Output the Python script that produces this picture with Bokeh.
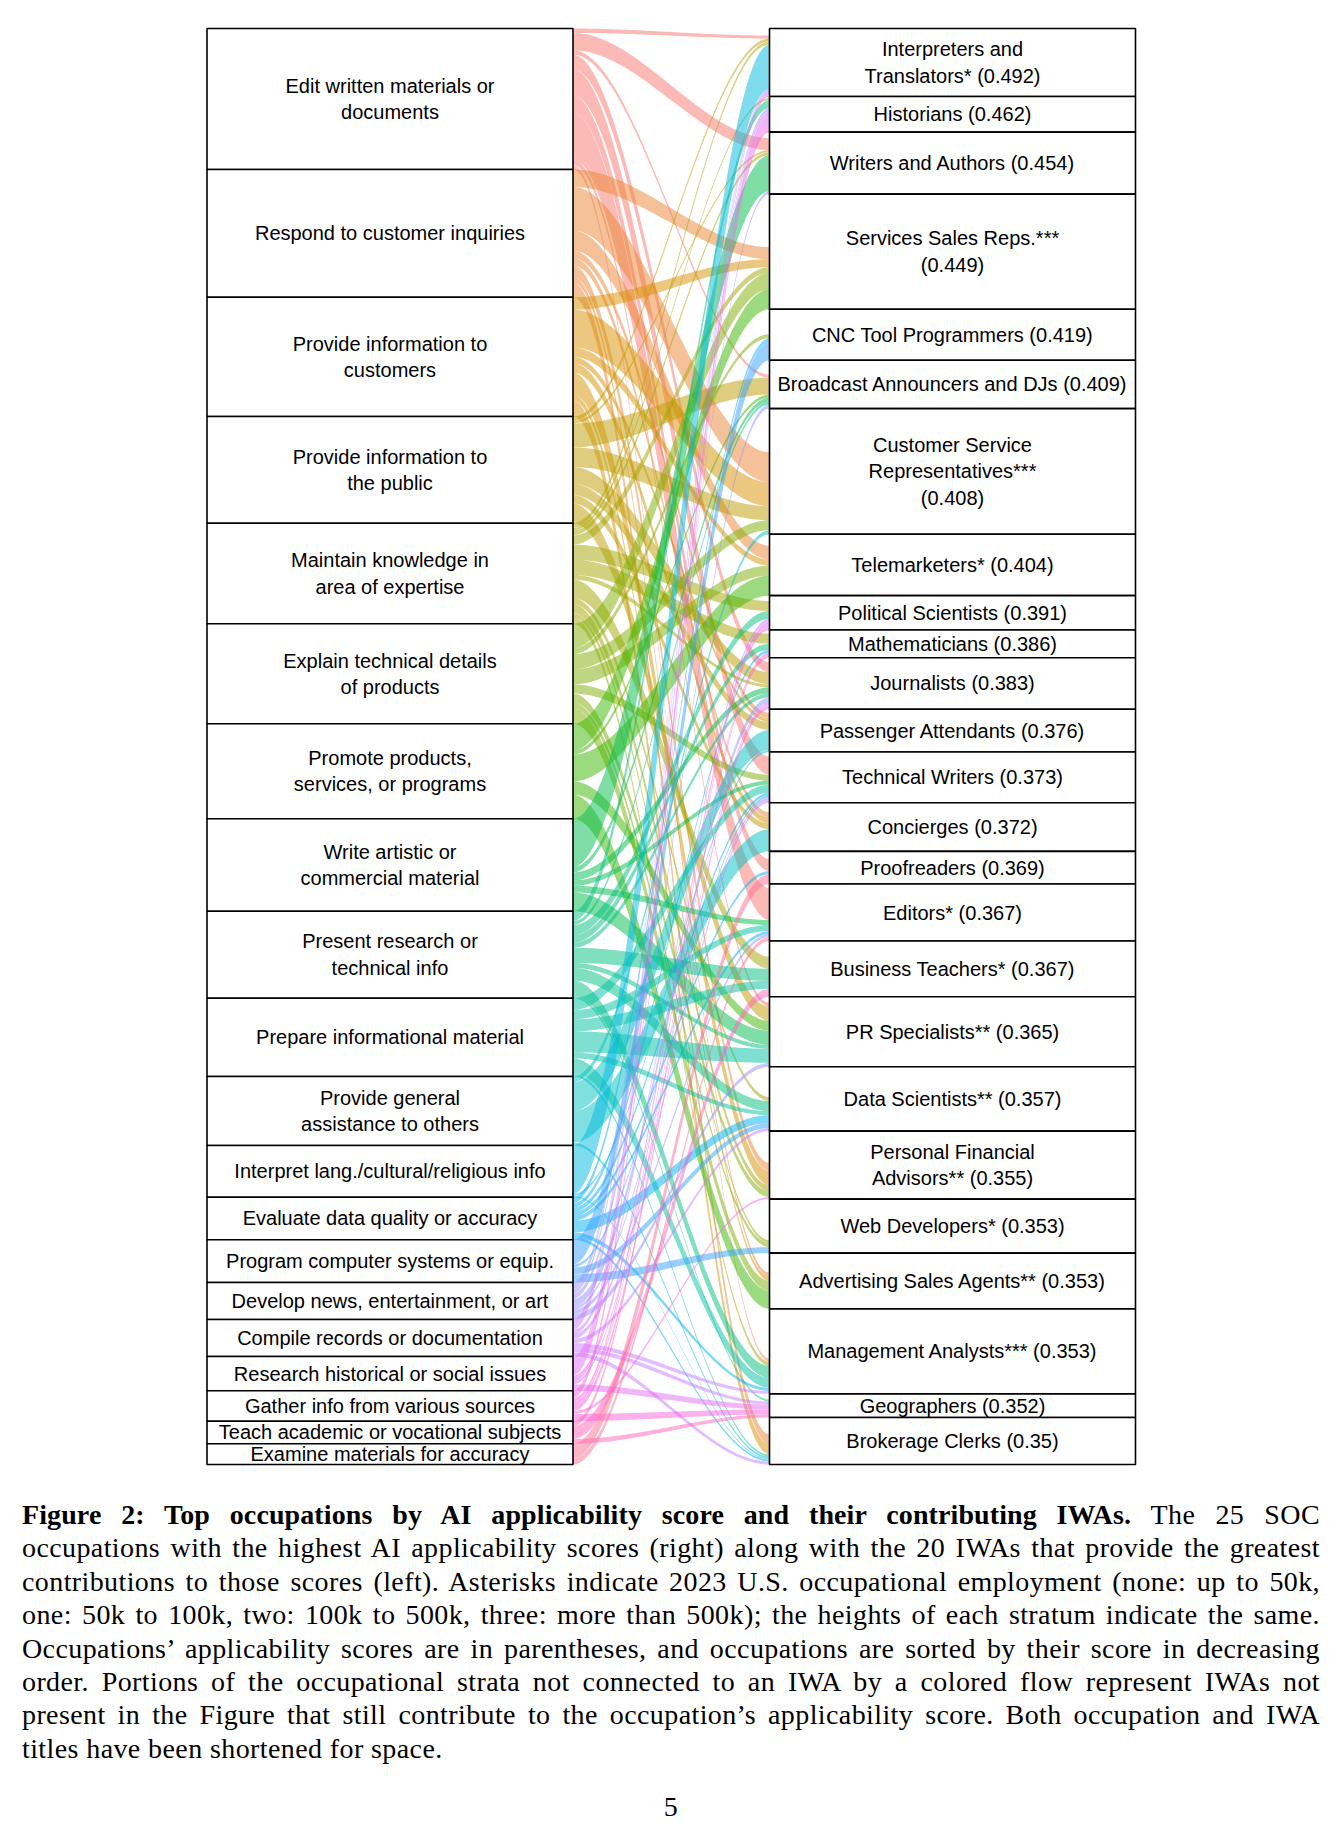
import numpy as np
from bokeh.plotting import figure
from bokeh.models import ColumnDataSource, Range1d, Div
from bokeh.layouts import column
from bokeh.embed import file_html
from bokeh.resources import INLINE
from bokeh.core.properties import value

# ---------------- data ----------------
iwa_labels = [
    "Edit written materials or\ndocuments",
    "Respond to customer inquiries",
    "Provide information to\ncustomers",
    "Provide information to\nthe public",
    "Maintain knowledge in\narea of expertise",
    "Explain technical details\nof products",
    "Promote products,\nservices, or programs",
    "Write artistic or\ncommercial material",
    "Present research or\ntechnical info",
    "Prepare informational material",
    "Provide general\nassistance to others",
    "Interpret lang./cultural/religious info",
    "Evaluate data quality or accuracy",
    "Program computer systems or equip.",
    "Develop news, entertainment, or art",
    "Compile records or documentation",
    "Research historical or social issues",
    "Gather info from various sources",
    "Teach academic or vocational subjects",
    "Examine materials for accuracy",
]
iwa_sizes = [141, 127.7, 119.3, 106.7, 100.6, 100, 95, 92.4, 87, 78.3,
             69, 51.7, 42.6, 42.7, 37, 37, 34.3, 30.4, 22.6, 20.7]

occ_names = [
    "Interpreters and\nTranslators*", "Historians", "Writers and Authors",
    "Services Sales Reps.***", "CNC Tool Programmers",
    "Broadcast Announcers and DJs", "Customer Service\nRepresentatives***",
    "Telemarketers*", "Political Scientists", "Mathematicians", "Journalists",
    "Passenger Attendants", "Technical Writers", "Concierges", "Proofreaders",
    "Editors*", "Business Teachers*", "PR Specialists**", "Data Scientists**",
    "Personal Financial\nAdvisors**", "Web Developers*",
    "Advertising Sales Agents**", "Management Analysts***", "Geographers",
    "Brokerage Clerks",
]
occ_scores = [0.492, 0.462, 0.454, 0.449, 0.419, 0.409, 0.408, 0.404, 0.391,
              0.386, 0.383, 0.376, 0.373, 0.372, 0.369, 0.367, 0.367, 0.365,
              0.357, 0.355, 0.353, 0.353, 0.353, 0.352, 0.35]
score_on_new_line = [3, 6]
occ_sizes = [68, 35.6, 62, 115, 51, 48.4, 125.6, 61.4, 34.3, 27.7, 51.6, 42.7,
             50.7, 48.6, 32.7, 57, 55.7, 70, 64.3, 68, 54, 55.7, 85, 23.6, 47]

iwa_colors = ["#F8766D", "#EA8331", "#D89000", "#C09B00", "#A3A500", "#7CAE00",
              "#39B600", "#00BB4E", "#00BF7D", "#00C1A3", "#00BFC4", "#00BAE0",
              "#00B0F6", "#35A2FF", "#9590FF", "#C77CFF", "#E76BF3", "#FA62DB",
              "#FF62BC", "#FF6C91"]

# flows: IWA index -> occupation index, contribution
flow_iwa = ([0]*9 + [1]*8 + [2]*8 + [3]*8 + [4]*12 + [5]*8 + [6]*5 + [7]*6 +
            [8]*10 + [9]*7 + [10]*4 + [11]*3 + [12]*8 + [13]*4 + [14]*8 +
            [15]*8 + [16]*5 + [17]*6 + [18]*3 + [19]*2)
flow_occ = [0, 2, 5, 10, 12, 14, 15, 17, 22,
            3, 6, 7, 11, 13, 19, 21, 24,
            3, 6, 7, 11, 13, 19, 21, 24,
            0, 2, 5, 6, 10, 11, 13, 17,
            0, 1, 2, 3, 8, 9, 10, 16, 18, 19, 20, 22,
            3, 4, 6, 7, 12, 19, 20, 21,
            3, 5, 7, 17, 21,
            2, 5, 10, 12, 15, 17,
            1, 5, 8, 9, 10, 16, 17, 18, 22, 23,
            12, 15, 16, 17, 18, 22, 24,
            6, 11, 13, 24,
            0, 11, 24,
            4, 9, 12, 14, 15, 18, 22, 24,
            4, 12, 18, 20,
            0, 1, 2, 5, 10, 12, 15, 17,
            0, 1, 8, 12, 18, 22, 23, 24,
            0, 1, 8, 10, 23,
            1, 8, 9, 10, 19, 23,
            9, 16, 23,
            14, 15]
flow_value = [3, 12, 3, 10, 18, 12, 32, 4, 3,
              12, 30, 14, 5, 5, 8, 4, 10,
              8, 24, 6, 4, 6, 14, 4, 10,
              3, 2, 17, 14, 12, 8, 6, 14,
              3, 2, 3, 6, 10, 10, 3, 12, 4, 6, 3, 4,
              16, 4, 10, 10, 6, 6, 4, 10,
              20, 3, 20, 10, 18,
              36, 4, 6, 4, 5, 14,
              8, 3, 8, 6, 4, 12, 4, 10, 12, 2,
              8, 6, 8, 14, 4, 10, 2,
              4, 20, 22, 2,
              44, 2, 1,
              4, 3, 3, 3, 3, 8, 3, 2,
              18, 2, 5, 6,
              2, 3, 3, 4, 6, 2, 3, 4,
              3, 4, 3, 3, 3, 3, 3, 3,
              3, 12, 5, 2, 5,
              5, 3, 2, 4, 2, 5,
              3, 8, 3,
              10, 4]

caption_lines = [
    "occupations with the highest AI applicability scores (right) along with the 20 IWAs that provide the greatest",
    "contributions to those scores (left). Asterisks indicate 2023 U.S. occupational employment (none: up to 50k,",
    "one: 50k to 100k, two: 100k to 500k, three: more than 500k); the heights of each stratum indicate the same.",
    "Occupations\u2019 applicability scores are in parentheses, and occupations are sorted by their score in decreasing",
    "order. Portions of the occupational strata not connected to an IWA by a colored flow represent IWAs not",
    "present in the Figure that still contribute to the occupation\u2019s applicability score. Both occupation and IWA",
]
caption_bold = "Figure 2: Top occupations by AI applicability score and their contributing IWAs."
caption_first_tail = "The 25 SOC"
caption_last = "titles have been shortened for space."

# ---------------- layout constants ----------------
W, H = 1325, 1480
xl0, xl1 = 198.5, 564.5     # left stratum column
xr0, xr1 = 761.0, 1127.0    # right stratum column
total = float(sum(occ_sizes))
lscale = total / float(sum(iwa_sizes))

# strata positions
l_top, l_bot = [], []
acc = total
for s in iwa_sizes:
    l_top.append(acc); acc -= s * lscale; l_bot.append(acc)
r_top, r_bot = [], []
acc = total
for s in occ_sizes:
    r_top.append(acc); acc -= s; r_bot.append(acc)

n_iwa, n_occ = len(iwa_sizes), len(occ_sizes)
row_sum = [0.0]*n_iwa
col_sum = [0.0]*n_occ
for i, j, v in zip(flow_iwa, flow_occ, flow_value):
    row_sum[i] += v; col_sum[j] += v

# left ends: within IWA stratum ordered by occupation, filling the stratum
order_left = sorted(range(len(flow_value)), key=lambda k: (flow_iwa[k], flow_occ[k]))
left_pos = {}
cur = list(l_top)
for k in order_left:
    i = flow_iwa[k]
    w = flow_value[k] * (iwa_sizes[i] * lscale) / row_sum[i]
    left_pos[k] = (cur[i], cur[i] - w); cur[i] -= w
# right ends: within occupation ordered by IWA, stacked on the bottom
order_right = sorted(range(len(flow_value)), key=lambda k: (flow_occ[k], flow_iwa[k]))
right_pos = {}
cur = [r_bot[j] + col_sum[j] for j in range(n_occ)]
for k in order_right:
    j = flow_occ[k]
    w = flow_value[k]
    right_pos[k] = (cur[j], cur[j] - w); cur[j] -= w

s = np.linspace(0, 1, 60)
sm = 3*s**2 - 2*s**3
xs_line = xl1 + (xr0 - xl1) * s
fx, fy, fc = [], [], []
for k in range(len(flow_value)):
    (lt, lb), (rt, rb) = left_pos[k], right_pos[k]
    top = lt + (rt - lt) * sm
    bot = lb + (rb - lb) * sm
    fx.append(np.concatenate([xs_line, xs_line[::-1]]).tolist())
    fy.append(np.concatenate([top, bot[::-1]]).tolist())
    fc.append(iwa_colors[flow_iwa[k]])

p = figure(width=W, height=H, x_range=Range1d(0, W), y_range=Range1d(-24, total + 20),
           output_backend="svg", toolbar_location=None, x_axis_type=None, y_axis_type=None,
           min_border=0)
p.outline_line_color = None
p.grid.visible = False

p.patches(xs="xs", ys="ys", fill_color="c", fill_alpha=0.5, line_color=None,
          source=ColumnDataSource(dict(xs=fx, ys=fy, c=fc)))

p.quad(left=[xl0]*n_iwa, right=[xl1]*n_iwa, top=l_top, bottom=l_bot,
       fill_color="white", line_color="black", line_width=1.6)
p.quad(left=[xr0]*n_occ, right=[xr1]*n_occ, top=r_top, bottom=r_bot,
       fill_color="white", line_color="black", line_width=1.6)

occ_labels = [f"{n}{chr(10) if j in score_on_new_line else ' '}({sc})"
              for j, (n, sc) in enumerate(zip(occ_names, occ_scores))]
p.text(x=[(xl0 + xl1) / 2]*n_iwa, y=[(a + b) / 2 for a, b in zip(l_top, l_bot)],
       text=iwa_labels, text_align="center", text_baseline="middle",
       text_font=value("Liberation Sans"), text_font_size="20px", text_color="black",
       text_line_height=1.2)
p.text(x=[(xr0 + xr1) / 2]*n_occ, y=[(a + b) / 2 for a, b in zip(r_top, r_bot)],
       text=occ_labels, text_align="center", text_baseline="middle",
       text_font=value("Liberation Sans"), text_font_size="20px", text_color="black",
       text_line_height=1.2)

just = "text-align:justify;text-align-last:justify;"
html = ("<div style=\"font-family:'Liberation Serif',serif;font-size:28px;line-height:33.4px;"
        "letter-spacing:0.4px;color:#000;padding:10px 0 0 0;margin-left:14px;"
        "box-sizing:content-box;width:1298px;\">"
        f"<div style='{just}'><b style='letter-spacing:0.1px'>{caption_bold}</b> {caption_first_tail}</div>"
        + "".join(f"<div style='{just}'>{ln}</div>" for ln in caption_lines)
        + f"<div style='text-align:left;'>{caption_last}</div>"
        + "<div style='text-align:center;margin-top:25px;'>5</div></div>")
cap = Div(text=html, width=W, margin=(0, 0, 0, 0))

layout = column(p, cap, spacing=0, margin=(8, 0, 0, 8))
open("out.html", "w").write(file_html(layout, INLINE))
